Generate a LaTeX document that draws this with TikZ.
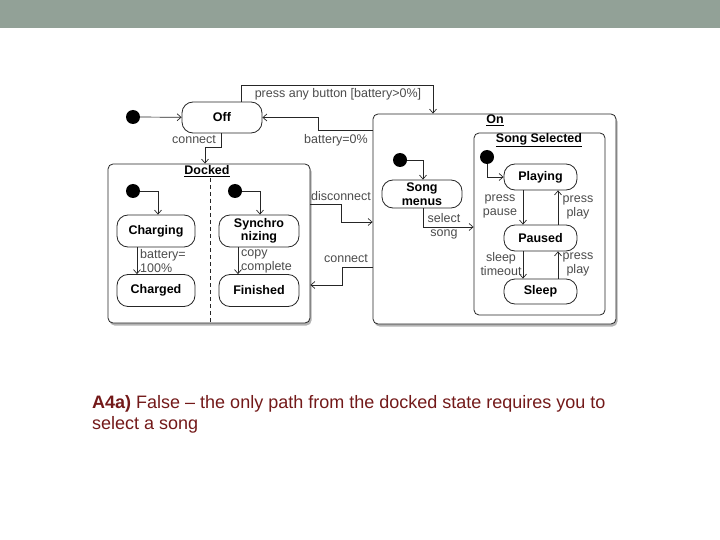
\documentclass[tikz,border=0pt]{standalone}
\usepackage{fontspec}
\setmainfont{Liberation Sans}
\usetikzlibrary{arrows.meta,shadows}
\definecolor{barcol}{RGB}{146,161,151}
\definecolor{anscol}{RGB}{115,25,25}
\tikzset{
  every node/.style={font=\fontsize{12.5}{14}\selectfont},
  statebox/.style={draw=black!85, line width=0.8pt, rounded corners=11pt, fill=white,
    font=\fontsize{12.5}{13.5}\selectfont\bfseries, align=center, inner sep=1pt},
  bigbox/.style={draw=black!85, line width=0.8pt, rounded corners=5pt, fill=white,
    drop shadow={opacity=0.6, shadow xshift=1.5pt, shadow yshift=-2.5pt}},
  subbox/.style={draw=black!85, line width=0.8pt, rounded corners=5pt, fill=white},
  initdot/.style={circle, fill=black, inner sep=0pt, minimum size=14pt},
  title/.style={font=\fontsize{12.5}{14}\selectfont\bfseries, inner sep=1pt},
  arr/.style={draw=black!85, line width=0.7pt, -{Straight Barb[length=4pt,width=7pt]}},
  lbl/.style={text=black!70, align=center, inner sep=0pt, font=\fontsize{12.5}{14}\selectfont},
}
\begin{document}
\begin{tikzpicture}[x=1pt,y=-1pt]
\useasboundingbox (0,0) rectangle (720,540);
\fill[barcol] (0,0) rectangle (720,28);

% big containers
\node[bigbox, minimum width=202pt, minimum height=159pt] (docked) at (209,243.5) {};
\node[bigbox, minimum width=243pt, minimum height=210pt] (on) at (494.5,219) {};
\node[subbox, minimum width=131pt, minimum height=182pt] (songsel) at (539.5,224) {};
\node[title] (dockedt) at (207,171) {\underline{Docked}};
\node[title] (ont) at (495,120) {\underline{On}};
\node[title] (songselt) at (539,140) {\underline{Song Selected}};
\draw[black!85, line width=1pt, dash pattern=on 4pt off 3pt] (210,178) -- (210,323);

% states
\node[statebox, minimum width=80pt, minimum height=31pt] (off) at (222,117.5) {Off};
\node[statebox, minimum width=78pt, minimum height=32pt] (charging) at (156,231) {Charging};
\node[statebox, minimum width=78pt, minimum height=32pt] (charged) at (156,290.5) {Charged};
\node[statebox, minimum width=80pt, minimum height=32pt] (sync) at (259,231) {Synchro\\nizing};
\node[statebox, minimum width=80pt, minimum height=32pt] (finished) at (259,290.5) {Finished};
\node[statebox, minimum width=80pt, minimum height=28pt] (songmenus) at (422,194) {Song\\menus};
\node[statebox, minimum width=73pt, minimum height=26pt] (playing) at (540.5,177) {Playing};
\node[statebox, minimum width=73pt, minimum height=26pt] (paused) at (540.5,238) {Paused};
\node[statebox, minimum width=73pt, minimum height=25pt] (sleep) at (540.5,291.5) {Sleep};

% initial pseudo-states
\node[initdot] (i0) at (133,117) {};
\node[initdot] (ich) at (133,191) {};
\node[initdot] (isy) at (235,191) {};
\node[initdot] (ion) at (400,160) {};
\node[initdot] (iss) at (487,157) {};

% transitions
\draw[arr] (i0) -- (off);
\draw[arr] (off.north -| 241,0) -- (241,85) -| (on.north -| 433,0);
\node[lbl] (l1) at (338,94) {press any button [battery>0\%]};
\draw[arr] (on.west |- 0,130) -| (318,117.5) -- (off.east);
\node[lbl] (l2) at (336,140) {battery=0\%};
\draw[arr] (off.south -| 221,0) |- (205,147) -- (docked.north -| 205,0);
\node[lbl] (l3) at (194,140) {connect};

\draw[arr] (ich) -| (charging.north -| 158,0);
\draw[arr] (charging.south -| 137,0) -- (charged.north -| 137,0);
\node[lbl, align=left, anchor=west] (l4) at (140,261) {battery=\\100\%};
\draw[arr] (isy) -| (sync.north -| 260,0);
\draw[arr] (sync.south -| 238,0) -- (finished.north -| 238,0);
\node[lbl, align=left, anchor=west] (l5) at (241,261) {copy\\complete};

\draw[arr] (docked.east |- 0,204) -| (341,222) -- (on.west |- 0,222);
\node[lbl] (l6) at (341,196) {disconnect};
\draw[arr] (on.west |- 0,267) -| (342,285) -- (docked.east |- 0,285);
\node[lbl] (l7) at (346,259) {connect};

\draw[arr] (ion) -| (songmenus.north -| 423,0);
\draw[arr] (songmenus.south -| 423,0) |- (songsel.west |- 0,227);
\node[lbl] (l8) at (444,226) {select\\song};

\draw[arr] (iss) |- (playing.west);
\draw[arr] (playing.south -| 523,0) -- (paused.north -| 523,0);
\node[lbl] (l9) at (500,206) {press\\pause};
\draw[arr] (paused.north -| 558,0) -- (playing.south -| 558,0);
\node[lbl] (l10) at (578,207) {press\\play};
\draw[arr] (paused.south -| 523,0) -- (sleep.north -| 523,0);
\node[lbl] (l11) at (501,264) {sleep\\timeout};
\draw[arr] (sleep.north -| 558,0) -- (paused.south -| 558,0);
\node[lbl] (l12) at (578,264) {press\\play};

% answer text
\node[anchor=base west, inner sep=0pt, text=anscol, font=\fontsize{18}{20}\selectfont] (ans1) at (92,408) {\textbf{A4a)} False – the only path from the docked state requires you to};
\node[anchor=base west, inner sep=0pt, text=anscol, font=\fontsize{18}{20}\selectfont] (ans2) at (92,429) {select a song};
\end{tikzpicture}
\end{document}
